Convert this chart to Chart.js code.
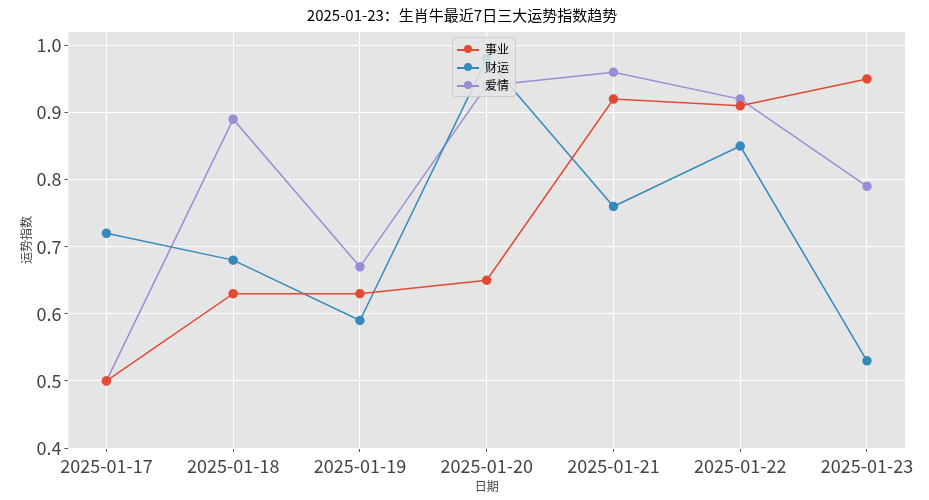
<!DOCTYPE html>
<html>
<head>
<meta charset="utf-8">
<script src="https://cdn.jsdelivr.net/npm/chart.js@4"></script>
<style>
  body { margin: 0; background: #fff; }
  #wrap { position: relative; width: 929px; height: 500px; }
  #legend { position: absolute; left: 452px; top: 37px; background: rgba(229,229,229,0.85);
    border: 1px solid #ccc; border-radius: 3px; padding: 2px 6px 2px 4px;
    font: 12px "Noto Sans CJK SC", sans-serif; line-height: 18px; }
  #legend span.m { display: inline-block; width: 22px; position: relative; height: 10px; margin-right: 6px; }
</style>
</head>
<body>
<div id="wrap">
  <canvas id="c" width="929" height="500"></canvas>
  <div id="legend"></div>
</div>
<script>
const dates = ['2025-01-17', '2025-01-18', '2025-01-19', '2025-01-20', '2025-01-21', '2025-01-22', '2025-01-23'];
const career = [0.50, 0.63, 0.63, 0.65, 0.92, 0.91, 0.95];
const wealth = [0.72, 0.68, 0.59, 0.98, 0.76, 0.85, 0.53];
const love = [0.50, 0.89, 0.67, 0.94, 0.96, 0.92, 0.79];
const yTicks = [0.4, 0.5, 0.6, 0.7, 0.8, 0.9, 1.0];

const series = [
  { label: '事业', data: career, color: '#E24A33' },
  { label: '财运', data: wealth, color: '#348ABD' },
  { label: '爱情', data: love, color: '#988ED5' }
];

const font = '"Noto Sans CJK SC", "DejaVu Sans", sans-serif';

const bgPlugin = {
  id: 'bg',
  beforeDraw(chart) {
    const a = chart.chartArea, ctx = chart.ctx;
    ctx.save();
    ctx.fillStyle = '#E5E5E5';
    ctx.fillRect(a.left, a.top, a.right - a.left, a.bottom - a.top);
    ctx.restore();
  }
};

new Chart(document.getElementById('c'), {
  type: 'line',
  data: {
    datasets: series.map(s => ({
      label: s.label,
      data: s.data.map((v, i) => ({ x: i, y: v })),
      borderColor: s.color,
      backgroundColor: s.color,
      borderWidth: 1.5,
      pointRadius: 4,
      tension: 0
    }))
  },
  options: {
    responsive: false,
    animation: false,
    layout: { padding: { left: 19, right: 24, top: 4, bottom: 6 } },
    plugins: {
      legend: { display: false },
      tooltip: { enabled: false },
      title: {
        display: true,
        text: '2025-01-23：生肖牛最近7日三大运势指数趋势',
        color: '#000',
        font: { family: font, size: 15, weight: 'normal' },
        padding: { top: 2, bottom: 8 }
      }
    },
    scales: {
      x: {
        type: 'linear',
        min: -0.3,
        max: 6.3,
        afterBuildTicks: axis => { axis.ticks = dates.map((d, i) => ({ value: i })); },
        ticks: {
          callback: v => dates[v],
          color: '#444',
          maxRotation: 0,
          font: { family: font, size: 18 }
        },
        grid: { color: '#fff', lineWidth: 1, drawTicks: true, tickColor: '#555', tickLength: 4 },
        border: { display: false },
        title: { display: true, text: '日期', color: '#444', font: { family: font, size: 12 }, padding: 0 }
      },
      y: {
        min: 0.4,
        max: 1.02,
        afterBuildTicks: axis => { axis.ticks = yTicks.map(v => ({ value: v })); },
        ticks: {
          callback: v => v.toFixed(1),
          color: '#444',
          font: { family: font, size: 18 }
        },
        grid: { color: '#fff', lineWidth: 1, tickColor: '#555', tickLength: 4 },
        border: { display: false },
        title: { display: true, text: '运势指数', color: '#444', font: { family: font, size: 12 }, padding: 0 }
      }
    }
  },
  plugins: [bgPlugin]
});

document.getElementById('legend').innerHTML = series.map(s =>
  '<div><span class="m"><span style="position:absolute;left:0;right:0;top:5px;height:2px;background:' + s.color +
  '"></span><span style="position:absolute;left:7px;top:1px;width:8px;height:8px;border-radius:50%;background:' + s.color +
  '"></span></span>' + s.label + '</div>').join('');
</script>
</body>
</html>
